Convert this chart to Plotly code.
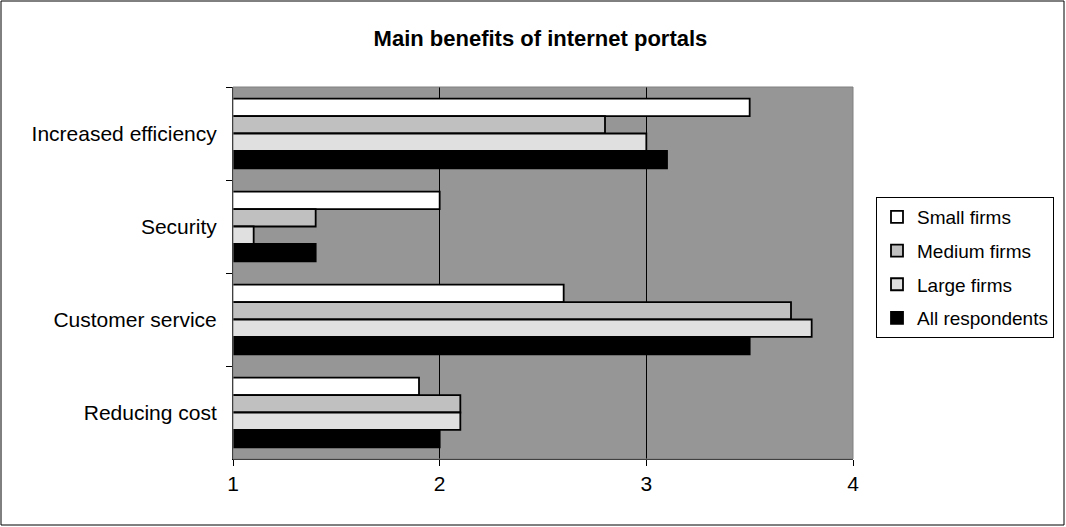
import plotly.graph_objects as go

# categories listed top to bottom as in the chart
categories = ["Increased efficiency", "Security", "Customer service", "Reducing cost"]
small_firms = [3.5, 2.0, 2.6, 1.9]
medium_firms = [2.8, 1.4, 3.7, 2.1]
large_firms = [3.0, 1.1, 3.8, 2.1]
all_respondents = [3.1, 1.4, 3.5, 2.0]
x_ticks = [1, 2, 3, 4]

series = [
    ("Small firms", small_firms, "#FFFFFF"),
    ("Medium firms", medium_firms, "#C0C0C0"),
    ("Large firms", large_firms, "#E0E0E0"),
    ("All respondents", all_respondents, "#000000"),
]

FONT = "Liberation Sans, Arial, sans-serif"

fig = go.Figure()
for name, vals, col in series:
    fig.add_trace(go.Bar(
        y=categories, x=vals, name=name, orientation="h",
        marker=dict(color=col, line=dict(color="#000000", width=1.8)),
        legendgroup=name,
    ))

L, R, T, B = 233, 213, 87, 68
W, H = 1066, 527
pw, ph = W - L - R, H - T - B

fig.update_layout(
    width=W, height=H,
    margin=dict(l=L, r=R, t=T, b=B, autoexpand=False),
    paper_bgcolor="#FFFFFF",
    plot_bgcolor="#969696",
    barmode="group",
    bargap=0.25,
    bargroupgap=0,
    font=dict(family=FONT, size=21, color="#000000"),
    title=dict(text="<b>Main benefits of internet portals</b>", x=0.507, xanchor="center",
               y=1 - 38 / H, yanchor="middle", font=dict(size=22, family=FONT)),
    legend=dict(
        x=(876 - L) / pw, y=(459 - 197) / ph, xanchor="left", yanchor="top",
        traceorder="grouped", tracegroupgap=6,
        bordercolor="#000000", borderwidth=1, bgcolor="#FFFFFF",
        font=dict(size=19, family=FONT), itemwidth=30,
    ),
    xaxis=dict(
        range=[1, 4], tickvals=x_ticks, ticktext=[str(t) for t in x_ticks],
        showgrid=True, gridcolor="#000000", gridwidth=1,
        showline=True, linecolor="#000000", linewidth=1,
        ticks="outside", ticklen=6, tickcolor="#000000",
        zeroline=False, mirror=False,
    ),
    yaxis=dict(
        categoryorder="array", categoryarray=categories,
        autorange="reversed",
        showline=True, linecolor="#000000", linewidth=1,
        ticks="outside", ticklen=6, tickcolor="#000000",
        tickson="boundaries", showgrid=False,
        ticklabelstandoff=11,
    ),
    shapes=[
        dict(type="rect", xref="paper", yref="paper", x0=0, x1=1, y0=0, y1=1,
             line=dict(color="#808080", width=1), fillcolor="rgba(0,0,0,0)", layer="above"),
        dict(type="rect", xref="paper", yref="paper",
             x0=(1 - L) / pw, x1=(1064 - L) / pw,
             y0=(459 - 525) / ph, y1=(459 - 1) / ph,
             line=dict(color="#000000", width=1), fillcolor="rgba(0,0,0,0)"),
    ],
)

fig.write_html("out.html", config={"displayModeBar": False},
               post_script="document.body.style.margin='0px';")
